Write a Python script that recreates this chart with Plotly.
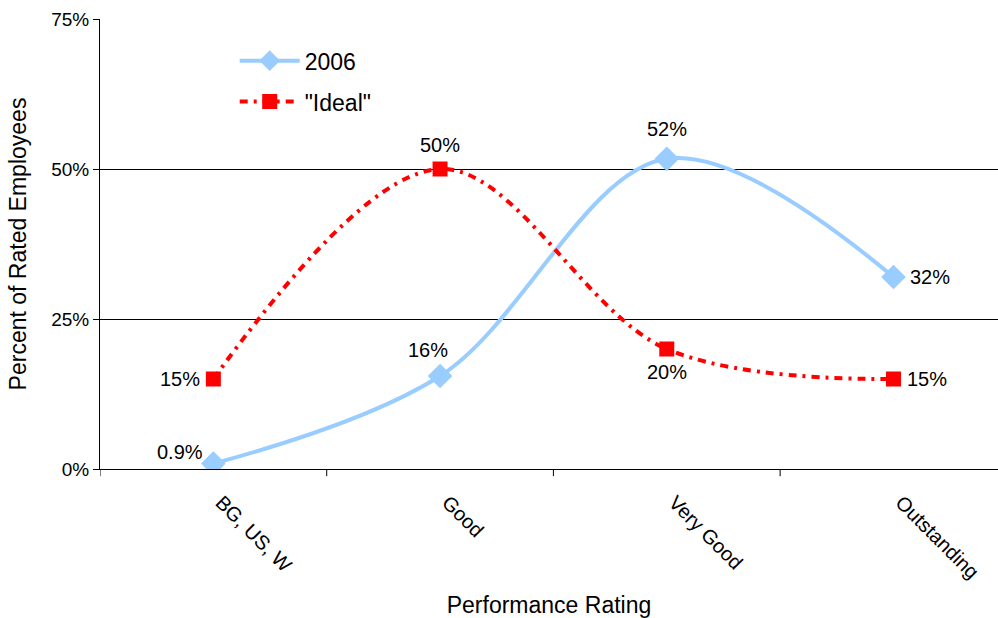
import plotly.graph_objects as go

categories = ["BG, US, W", "Good", "Very Good", "Outstanding"]
series_2006 = [0.9, 15.5, 51.7, 32.0]
labels_2006 = ["0.9%", "16%", "52%", "32%"]
series_ideal = [15, 50, 20, 15]
labels_ideal = ["15%", "50%", "20%", "15%"]
y_ticks = [0, 25, 50, 75]
y_tick_text = ["0%", "25%", "50%", "75%"]

FONT = "Liberation Sans, Arial, sans-serif"
xs = list(range(len(categories)))

fig = go.Figure()
fig.add_trace(go.Scatter(
    x=xs, y=series_2006, name="2006", mode="lines+markers", legendgroup="a",
    line=dict(color="#99CCFF", width=4, shape="spline", smoothing=1.0),
    marker=dict(symbol="diamond", size=19, color="#99CCFF"),
))
fig.add_trace(go.Scatter(
    x=xs, y=series_ideal, name="\"Ideal\"", mode="lines+markers", legendgroup="b",
    line=dict(color="#FF0000", width=4, shape="spline", smoothing=1.0,
              dash="8px,6px,3px,6px"),
    marker=dict(symbol="square", size=15, color="#FF0000"),
))

# value labels around each point (x shift, y shift in px)
offs_2006 = [(-33, 12), (-12, 26), (0, 30), (37, 0)]
offs_ideal = [(-33, 0), (0, 24), (0, -23), (34, 0)]
for i, (v, t) in enumerate(zip(series_2006, labels_2006)):
    dx, dy = offs_2006[i]
    fig.add_annotation(x=i, y=v, text=t, showarrow=False, xshift=dx, yshift=dy,
                       font=dict(family=FONT, size=20, color="black"))
for i, (v, t) in enumerate(zip(series_ideal, labels_ideal)):
    dx, dy = offs_ideal[i]
    fig.add_annotation(x=i, y=v, text=t, showarrow=False, xshift=dx, yshift=dy,
                       font=dict(family=FONT, size=20, color="black"))

fig.update_layout(
    width=998, height=618,
    margin=dict(l=100, r=0, t=19, b=149),
    paper_bgcolor="white", plot_bgcolor="white",
    font=dict(family=FONT, color="black"),
    showlegend=True,
    legend=dict(x=0.15, y=0.955, xanchor="left", yanchor="top", traceorder="grouped",
                bgcolor="rgba(0,0,0,0)", font=dict(family=FONT, size=23),
                itemwidth=60, tracegroupgap=8, itemsizing="trace"),
    xaxis=dict(
        tickmode="array", tickvals=xs, ticktext=["  " + c for c in categories],
        range=[-0.5, 3.461], tickangle=45, showgrid=False, zeroline=False,
        showline=True, linecolor="black", linewidth=1,
        ticks="outside", ticklen=5, tickcolor="rgba(0,0,0,0)",
        tickfont=dict(family=FONT, size=20),
        title=dict(text="Performance Rating", font=dict(family=FONT, size=23), standoff=14),
    ),
    yaxis=dict(
        range=[0, 75], tickmode="array", tickvals=y_ticks, ticktext=y_tick_text,
        showgrid=True, gridcolor="black", gridwidth=1, zeroline=False,
        showline=True, linecolor="black", linewidth=1,
        ticks="outside", ticklen=6, tickcolor="black",
        tickfont=dict(family=FONT, size=19),
        title=dict(text="Percent of Rated Employees", font=dict(family=FONT, size=23), standoff=18),
    ),
)

# category separators drawn as tick marks below the axis
for b in [-0.5, 0.5, 1.5, 2.5]:
    fig.add_shape(type="line", xref="x", yref="paper", x0=b, x1=b, y0=0, y1=-0.016,
                  line=dict(color="black", width=1))

fig.write_html("out.html")
